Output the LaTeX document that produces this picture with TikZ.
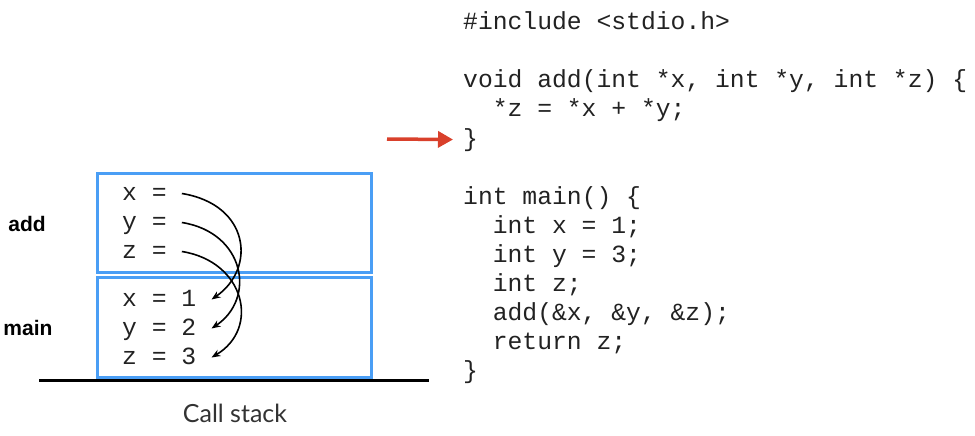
\documentclass[tikz,border=0pt]{standalone}
\usepackage{fontspec}
\setmainfont{Liberation Sans}
\setmonofont{Liberation Mono}
\newfontfamily\stackfont{Lato}
\usetikzlibrary{arrows.meta}
\definecolor{boxblue}{RGB}{74,158,245}
\definecolor{pcred}{RGB}{217,64,43}
\definecolor{codegray}{RGB}{34,34,34}

\begin{document}
\begin{tikzpicture}[x=1pt, y=-1pt,
    frame/.style={draw=boxblue, line width=3pt},
    codeline/.style={anchor=base west, inner sep=0pt, text=codegray, font=\ttfamily\fontsize{24.7}{29}\selectfont},
    stackvar/.style={anchor=base west, inner xsep=15pt, inner ysep=0pt, text height=13pt, text depth=0pt, text=codegray, font=\ttfamily\fontsize{24.7}{29}\selectfont},
    framename/.style={font=\bfseries\fontsize{21}{24}\selectfont},
    pointer/.style={-{Stealth[length=9pt,width=7pt]}, line width=1.6pt},
    pcarrow/.style={-{Triangle[length=15pt,width=16pt]}, draw=pcred, line width=3.5pt, shorten >=10pt},
  ]
    \useasboundingbox (0,0) rectangle (975,436);
    % call stack frames
    \draw[frame] (97,173) rectangle (371,272);
    \draw[frame] (97,277) rectangle (371,377);
    \draw[line width=3pt] (39,380) -- (429,380);
    \node[framename] (addname)  at (27,224) {add};
    \node[framename] (mainname) at (28,328) {main};
    \node[font=\stackfont\fontsize{25}{28}\selectfont, text=black!80] (stacklabel) at (235,413) {Call stack};
    % variables in add
    \node[stackvar] (ax) at (107,200) {x =};
    \node[stackvar] (ay) at (107,229) {y =};
    \node[stackvar] (az) at (107,258) {z =};
    % variables in main
    \node[stackvar] (mx) at (107,306) {x = 1};
    \node[stackvar] (my) at (107,335) {y = 2};
    \node[stackvar] (mz) at (107,364) {z = 3};
    % pointers
    \draw[pointer] (ax.east) .. controls +(68,11) and +(45,-31) .. (mx.east);
    \draw[pointer] (ay.east) .. controls +(63,10) and +(45,-30) .. (my.east);
    \draw[pointer] (az.east) .. controls +(63,10) and +(49,-29) .. (mz.east);
    % source code
    \node[codeline] (c1)  at (463,30)  {\#include <stdio.h>};
    \node[codeline] (c2)  at (463,88)  {void add(int *x, int *y, int *z) \{};
    \node[codeline] (c3)  at (492.6,117) {*z = *x + *y;};
    \node[codeline] (c4)  at (463,146) {\}};
    \node[codeline] (c5)  at (463,204) {int main() \{};
    \node[codeline] (c6)  at (492.6,233) {int x = 1;};
    \node[codeline] (c7)  at (492.6,262) {int y = 3;};
    \node[codeline] (c8)  at (492.6,291) {int z;};
    \node[codeline] (c9)  at (492.6,320) {add(\&x, \&y, \&z);};
    \node[codeline] (c10) at (492.6,349) {return z;};
    \node[codeline] (c11) at (463,378) {\}};
    % current line
    \coordinate (pc) at (387,139);
    \draw[pcarrow] (pc) -- (c4.west);
\end{tikzpicture}
\end{document}
